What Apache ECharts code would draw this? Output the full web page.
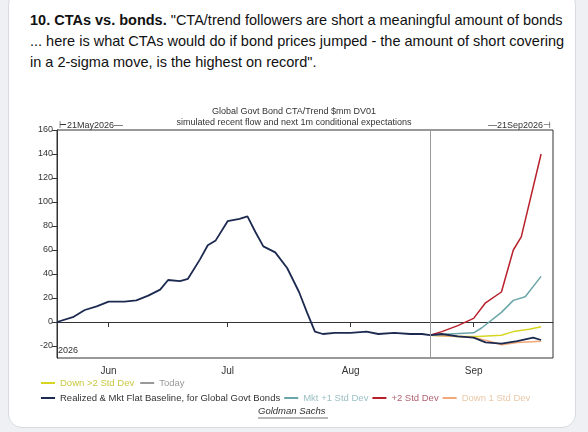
<!DOCTYPE html>
<html><head><meta charset="utf-8">
<script src="https://cdn.jsdelivr.net/npm/echarts@6/dist/echarts.min.js"></script>
<style>
html,body{margin:0;padding:0;background:#eef0f3;}
#card{position:absolute;left:8px;top:-10px;width:566px;height:436px;background:#fff;border:1px solid #d8dbe0;border-radius:14px;}
#hdr{position:absolute;left:30px;top:10px;width:540px;font-family:Arial,"Liberation Sans",sans-serif;font-size:14.5px;line-height:21px;color:#111;}
#c{position:absolute;left:0;top:0;width:588px;height:432px;}
</style></head><body>
<div id="card"></div>
<div id="hdr"><b>10. CTAs vs. bonds.</b> "CTA/trend followers are short a meaningful amount of bonds ... here is what CTAs would do if bond prices jumped - the amount of short covering in a 2-sigma move, is the highest on record".</div>
<div id="c"></div>
<script>
const baseline = [['2026-05-19',0],['2026-05-23',4],['2026-05-26',10],['2026-05-29',13],['2026-06-01',17],['2026-06-05',17],['2026-06-08',18],['2026-06-11',22],['2026-06-14',27],['2026-06-16',35],['2026-06-19',34],['2026-06-21',36],['2026-06-24',52],['2026-06-26',64],['2026-06-28',68],['2026-07-01',84],['2026-07-04',86],['2026-07-06',88],['2026-07-08',75],['2026-07-10',63],['2026-07-13',58],['2026-07-16',45],['2026-07-19',25],['2026-07-21',8],['2026-07-23',-8],['2026-07-25',-10],['2026-07-28',-9],['2026-08-01',-9],['2026-08-05',-8],['2026-08-08',-10],['2026-08-12',-9],['2026-08-16',-10],['2026-08-19',-10],['2026-08-21',-11],['2026-08-24',-10],['2026-08-28',-12],['2026-09-01',-13],['2026-09-04',-17],['2026-09-08',-18],['2026-09-12',-16],['2026-09-16',-13],['2026-09-18',-15]];
const plus2 = [['2026-08-21',-11],['2026-08-24',-8],['2026-08-28',-3],['2026-09-01',3],['2026-09-04',16],['2026-09-08',25],['2026-09-11',60],['2026-09-13',71],['2026-09-18',140]];
const plus1 = [['2026-08-21',-11],['2026-08-26',-10],['2026-09-01',-9],['2026-09-03',-5],['2026-09-08',8],['2026-09-11',18],['2026-09-14',21],['2026-09-18',38]];
const down2 = [['2026-08-21',-11],['2026-08-28',-12],['2026-09-02',-12],['2026-09-08',-11],['2026-09-11',-8],['2026-09-15',-6],['2026-09-18',-4]];
const down1 = [['2026-08-21',-11],['2026-08-28',-12],['2026-09-01',-13],['2026-09-05',-16],['2026-09-08',-19],['2026-09-12',-17],['2026-09-18',-16]];
const todayDate = '2026-08-21';
const monthTicks = ['2026-06-01','2026-07-01','2026-08-01','2026-09-01'];
const yTicks = [-20,0,20,40,60,80,100,120,140,160];

const ts = d => new Date(d + 'T00:00:00Z').getTime();
const conv = arr => arr.map(p => [ts(p[0]), p[1]]);
const MON = ['Jan','Feb','Mar','Apr','May','Jun','Jul','Aug','Sep','Oct','Nov','Dec'];
const ch = echarts.init(document.getElementById('c'));
const F = 'Arial, "Liberation Sans", sans-serif';
function s(name,data,color,w){return {name,type:'line',data:conv(data),showSymbol:false,lineStyle:{color,width:w||1.5},itemStyle:{color},z:w?3:2};}
function li(name,color){return {name,textStyle:{color}};}
ch.setOption({
  animation:false,
  textStyle:{fontFamily:F},
  title:{text:'Global Govt Bond CTA/Trend $mm DV01',subtext:'simulated recent flow and next 1m conditional expectations',left:'center',top:102,itemGap:2,
    textStyle:{fontSize:9,fontWeight:'normal',color:'#333'},subtextStyle:{fontSize:9,color:'#333'}},
  grid:{left:57,right:35,top:130,bottom:74,show:true,borderColor:'#333',borderWidth:1},
  xAxis:{type:'value',min:ts('2026-05-19'),max:ts('2026-09-21'),
    axisLine:{lineStyle:{color:'#333'}},axisTick:{show:true,customValues:monthTicks.map(ts),lineStyle:{color:'#333'}},
    axisLabel:{customValues:monthTicks.map(ts),formatter:v=>MON[new Date(v).getUTCMonth()],color:'#333',fontSize:10},
    splitLine:{show:false}},
  yAxis:{type:'value',min:-30,max:160,
    axisLine:{show:true,lineStyle:{color:'#333'}},axisTick:{show:true,customValues:yTicks,lineStyle:{color:'#333'}},
    axisLabel:{customValues:yTicks,color:'#333',fontSize:9,margin:4},splitLine:{show:false}},
  legend:[
    {data:[li('Down >2 Std Dev','#c8c840'),li('Today','#999')],left:36,top:373,itemWidth:14,itemHeight:2,itemGap:6,icon:'rect',
      textStyle:{fontSize:9.5}},
    {data:[li('Realized & Mkt Flat Baseline, for Global Govt Bonds','#333'),li('Mkt +1 Std Dev','#9cc0c4'),li('+2 Std Dev','#b06070'),li('Down 1 Std Dev','#e8c8a8')],left:36,top:388,itemWidth:14,itemHeight:2,itemGap:4,icon:'rect',
      textStyle:{fontSize:9.5}}
  ],
  series:[
    s('Down >2 Std Dev',down2,'#d6d620'),
    {name:'Today',type:'line',data:[],itemStyle:{color:'#999'},lineStyle:{color:'#999'},
      markLine:{symbol:'none',silent:true,label:{show:false},lineStyle:{color:'#999',width:1,type:'solid'},data:[{xAxis:ts(todayDate)}]}},
    s('Down 1 Std Dev',down1,'#f2a878'),
    s('Mkt +1 Std Dev',plus1,'#6aa6a8'),
    s('+2 Std Dev',plus2,'#b8202c'),
    s('Realized & Mkt Flat Baseline, for Global Govt Bonds',baseline,'#1c2a50',1.8)
  ],
  graphic:[
    {type:'text',left:59,top:121,style:{text:'⊢21May2026—',fontSize:9,fill:'#333',fontFamily:F}},
    {type:'text',right:37,top:121,style:{text:'—21Sep2026⊣',fontSize:9,fill:'#333',fontFamily:F}},
    {type:'text',left:58,top:346,style:{text:'2026',fontSize:9,fill:'#333',fontFamily:F}},
    {type:'text',left:258,top:406,style:{text:'Goldman Sachs',fontSize:9.5,fill:'#333',fontStyle:'italic',fontFamily:F}},
    {type:'line',shape:{x1:258,y1:418,x2:328,y2:418},style:{stroke:'#333',lineWidth:0.7}}
  ]
});
</script></body></html>
